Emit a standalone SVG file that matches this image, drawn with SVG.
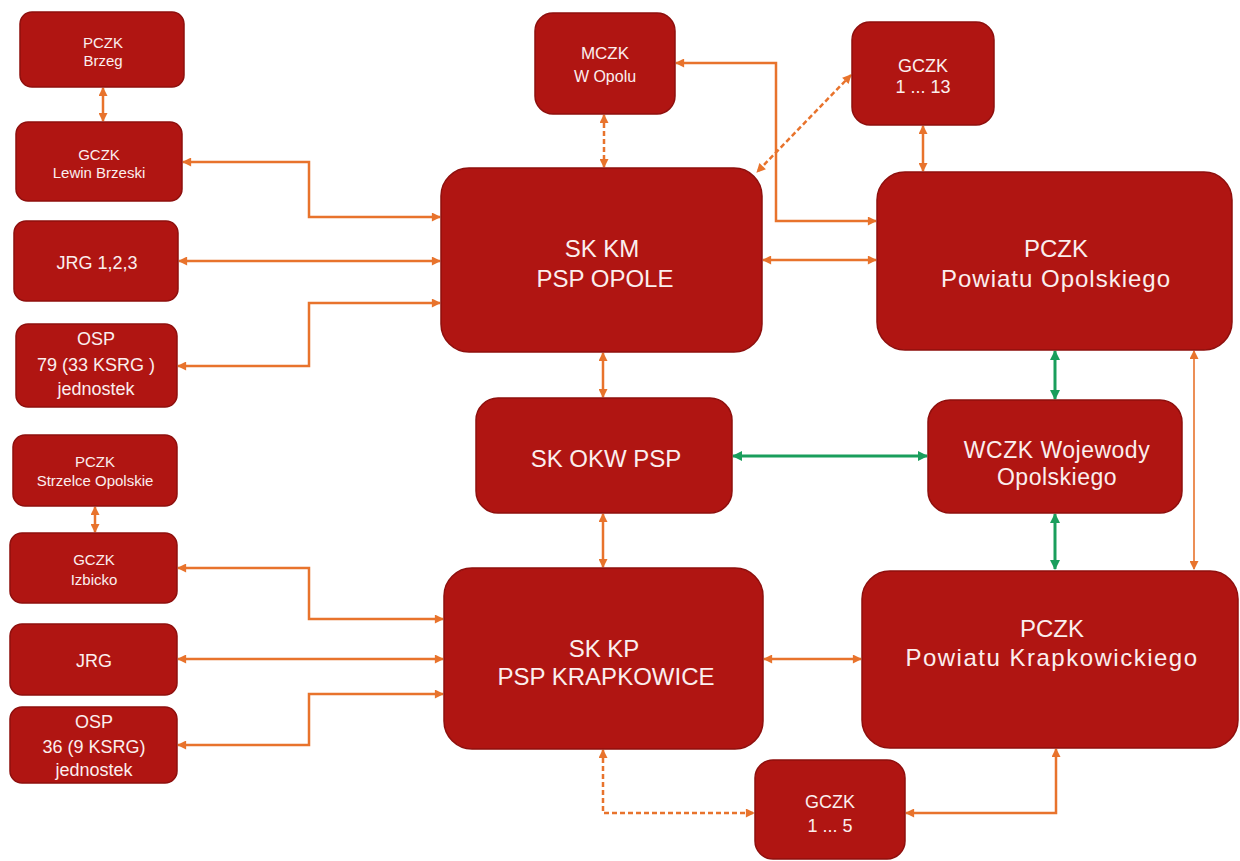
<svg xmlns="http://www.w3.org/2000/svg" width="1240" height="861" viewBox="0 0 1240 861">
<defs>
<marker id="ao" viewBox="0 0 10 10" refX="9" refY="5" markerUnits="userSpaceOnUse" markerWidth="10" markerHeight="9" orient="auto-start-reverse"><path d="M0,0 L10,5 L0,10 z" fill="#e8732c"/></marker>
<marker id="ag" viewBox="0 0 10 10" refX="9" refY="5" markerUnits="userSpaceOnUse" markerWidth="11" markerHeight="10" orient="auto-start-reverse"><path d="M0,0 L10,5 L0,10 z" fill="#1a9e5c"/></marker>
<style>
.n{fill:#b01512;stroke:#8e0f0d;stroke-width:1.5}
.t{fill:#fbeeee;font-family:"Liberation Sans",Arial,sans-serif;text-anchor:middle}
.s{font-size:15px}
.m{font-size:18px}
.l{font-size:24px}
.o{fill:none;stroke:#e8732c;stroke-width:2.5;marker-start:url(#ao);marker-end:url(#ao)}
.d{stroke-dasharray:5,3}
.th{stroke-width:1.6}
.g{fill:none;stroke:#1a9e5c;stroke-width:3;marker-start:url(#ag);marker-end:url(#ag)}
</style>
</defs>
<rect width="1240" height="861" fill="#ffffff"/>
<g id="connectors">
<path class="o" d="M103,88 V121"/>
<path class="o" d="M183,162 H309 V217 H440"/>
<path class="o" d="M179,261 H440"/>
<path class="o" d="M178,366 H309 V303 H440"/>
<path class="o" d="M95,507 V532"/>
<path class="o" d="M178,568 H309 V619 H443"/>
<path class="o" d="M178,659 H443"/>
<path class="o" d="M178,745 H309 V694 H443"/>
<path class="o d" d="M604,115 V167"/>
<path class="o" d="M676,63 H776 V221 H876"/>
<path class="o d" d="M851,75 L757,172"/>
<path class="o" d="M923,126 V171"/>
<path class="o" d="M763,260 H876"/>
<path class="o" d="M603,353 V397"/>
<path class="g" d="M733,456 H927"/>
<path class="g" d="M1055,351 V399"/>
<path class="g" d="M1055,514 V569"/>
<path class="o th" d="M1194,351 V569"/>
<path class="o" d="M603,514 V567"/>
<path class="o" d="M764,659 H861"/>
<path class="o d" d="M603,750 V813 H754"/>
<path class="o" d="M906,813 H1056 V749"/>
</g>
<g id="pczk-brzeg"><rect class="n" x="20" y="12" width="164" height="75" rx="12"/><text class="t s" x="103" y="48">PCZK</text><text class="t s" x="103" y="66">Brzeg</text></g>
<g id="gczk-lewin"><rect class="n" x="16" y="122" width="166" height="79" rx="12"/><text class="t s" x="99" y="160">GCZK</text><text class="t s" x="99" y="178">Lewin Brzeski</text></g>
<g id="jrg-123"><rect class="n" x="14" y="221" width="164" height="80" rx="12"/><text class="t m" x="97" y="269">JRG 1,2,3</text></g>
<g id="osp-79"><rect class="n" x="16" y="324" width="161" height="83" rx="12"/><text class="t m" x="96" y="345">OSP</text><text class="t m" x="96" y="371">79 (33 KSRG )</text><text class="t m" x="96" y="395">jednostek</text></g>
<g id="pczk-strzelce"><rect class="n" x="13" y="435" width="164" height="71" rx="12"/><text class="t s" x="95" y="467">PCZK</text><text class="t s" x="95" y="486">Strzelce Opolskie</text></g>
<g id="gczk-izbicko"><rect class="n" x="10" y="533" width="167" height="70" rx="12"/><text class="t s" x="94" y="565">GCZK</text><text class="t s" x="94" y="585">Izbicko</text></g>
<g id="jrg"><rect class="n" x="10" y="624" width="167" height="71" rx="12"/><text class="t m" x="94" y="667">JRG</text></g>
<g id="osp-36"><rect class="n" x="10" y="707" width="167" height="76" rx="12"/><text class="t m" x="94" y="728">OSP</text><text class="t m" x="94" y="753">36 (9 KSRG)</text><text class="t m" x="94" y="776">jednostek</text></g>
<g id="mczk"><rect class="n" x="535" y="13" width="140" height="101" rx="18"/><text class="t" style="font-size:17px" x="605" y="59">MCZK</text><text class="t" style="font-size:16px" x="605" y="82">W Opolu</text></g>
<g id="gczk-13"><rect class="n" x="852" y="22" width="142" height="103" rx="18"/><text class="t m" x="923" y="72">GCZK</text><text class="t m" x="923" y="93">1 ... 13</text></g>
<g id="sk-km"><rect class="n" x="441" y="168" width="321" height="184" rx="28"/><text class="t l" x="602" y="257">SK KM</text><text class="t l" x="605" y="287">PSP OPOLE</text></g>
<g id="pczk-opolski"><rect class="n" x="877" y="172" width="355" height="178" rx="28"/><text class="t l" x="1056" y="257">PCZK</text><text class="t l" style="letter-spacing:1px" x="1056" y="287">Powiatu Opolskiego</text></g>
<g id="sk-okw"><rect class="n" x="476" y="398" width="256" height="115" rx="22"/><text class="t l" x="606" y="467">SK OKW PSP</text></g>
<g id="wczk"><rect class="n" x="928" y="400" width="254" height="113" rx="22"/><text class="t" style="font-size:23px;letter-spacing:0.5px" x="1057" y="458">WCZK Wojewody</text><text class="t" style="font-size:23px;letter-spacing:0.5px" x="1057" y="485">Opolskiego</text></g>
<g id="sk-kp"><rect class="n" x="444" y="568" width="319" height="181" rx="28"/><text class="t l" x="604" y="657">SK KP</text><text class="t l" x="606" y="685">PSP KRAPKOWICE</text></g>
<g id="pczk-krapkowicki"><rect class="n" x="862" y="571" width="376" height="177" rx="28"/><text class="t l" x="1052" y="637">PCZK</text><text class="t l" style="letter-spacing:1.5px" x="1052" y="666">Powiatu Krapkowickiego</text></g>
<g id="gczk-5"><rect class="n" x="755" y="760" width="150" height="99" rx="18"/><text class="t m" x="830" y="808">GCZK</text><text class="t m" x="830" y="832">1 ... 5</text></g>
</svg>
